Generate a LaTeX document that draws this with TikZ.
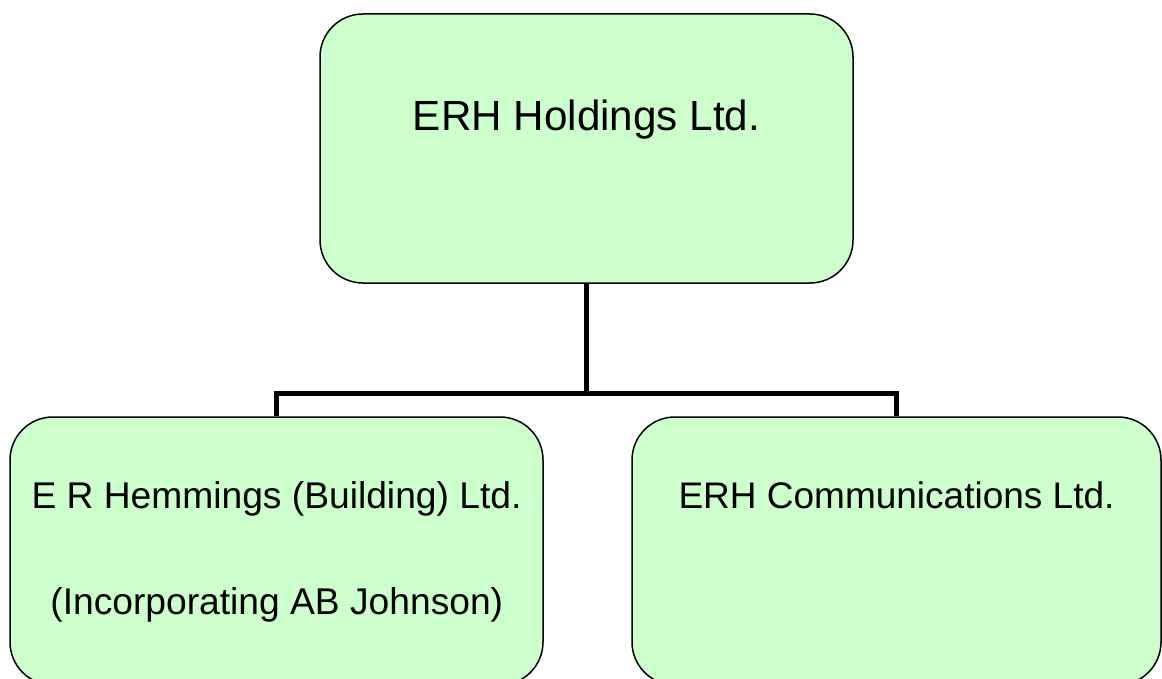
\documentclass[tikz,border=0pt]{standalone}
\usepackage{fontspec}
\setmainfont{Liberation Sans}
\usetikzlibrary{calc}
\definecolor{boxgreen}{RGB}{204,255,204}
\tikzset{
  orgbox/.style={draw=black, line width=1.5pt, fill=boxgreen, rounded corners=43pt, inner sep=0pt},
  conn/.style={draw=black, line width=5pt, line cap=butt},
  lbl/.style={inner sep=0pt, anchor=base}
}
\begin{document}
\begin{tikzpicture}[x=1pt,y=-1pt]
\clip (0,0) rectangle (1162,679);
\useasboundingbox (0,0) rectangle (1162,679);
\node[orgbox, minimum width=533pt, minimum height=269pt] (top) at (586.5,148.5) {};
\node[orgbox, minimum width=533pt, minimum height=268pt] (left) at (276.5,551) {};
\node[orgbox, minimum width=529pt, minimum height=268pt] (right) at (896.5,551) {};
\node[lbl, font=\fontsize{42.2}{50}\selectfont] (ttop) at (586.5,131) {ERH Holdings Ltd.};
\node[lbl, font=\fontsize{37.2}{44}\selectfont] (tl1) at (276.5,508.5) {E R Hemmings (Building) Ltd.};
\node[lbl, font=\fontsize{37.2}{44}\selectfont] (tl2) at (276.8,614) {(Incorporating AB Johnson)};
\node[lbl, font=\fontsize{37}{44}\selectfont] (tr1) at (896.5,508.5) {ERH Communications Ltd.};
\coordinate (j) at (586.5,393);
\draw[conn] (top.south) -- (j);
\draw[conn] (left.north) -- (left.north |- j) -- (right.north |- j) -- (right.north);
\end{tikzpicture}
\end{document}
